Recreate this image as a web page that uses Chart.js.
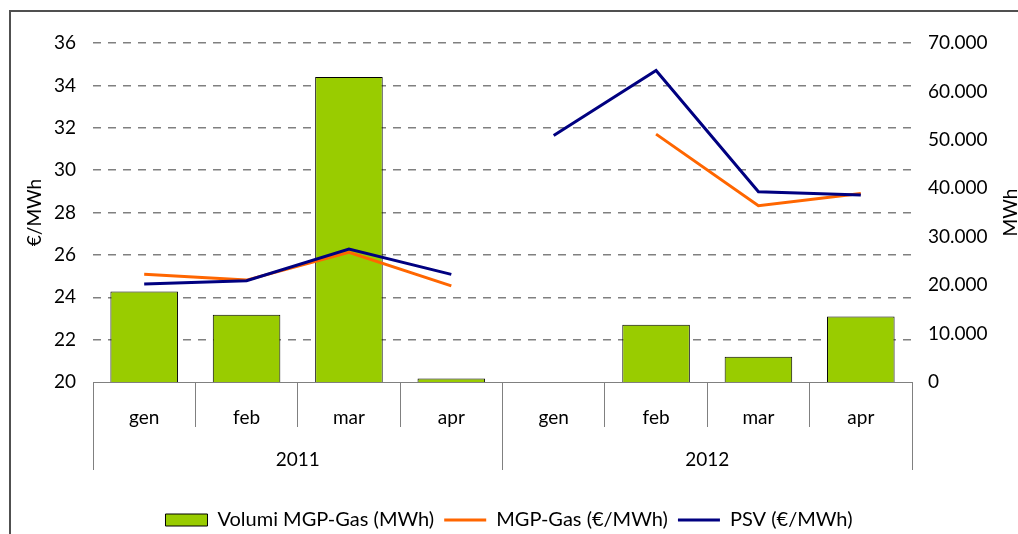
<!DOCTYPE html>
<html>
<head>
<meta charset="utf-8">
<script src="https://cdn.jsdelivr.net/npm/chart.js@4"></script>
<style>
  html, body { margin: 0; padding: 0; background: #fff; overflow: hidden; }
  #wrap { position: relative; width: 1018px; height: 534px; }
  #frame { position: absolute; left: 9px; top: 10px; width: 1100px; height: 600px;
           border: 2px solid #505050; box-sizing: border-box; }
  #c { position: absolute; left: 0; top: 0; }
</style>
</head>
<body>
<div id="wrap">
  <div id="frame"></div>
  <canvas id="c" width="1018" height="534"></canvas>
</div>
<script>
// Months (two years), MWh volumes on right axis, prices on left axis
const months = ['gen', 'feb', 'mar', 'apr', 'gen', 'feb', 'mar', 'apr'];
const years = ['2011', '2012'];
const volumi = [18700, 13900, 63000, 700, null, 11800, 5200, 13500];
const mgpGas = [25.08, 24.81, 26.12, 24.54, null, 31.70, 28.32, 28.90];
const psv = [24.62, 24.78, 26.27, 25.08, 31.63, 34.70, 28.98, 28.83];

const GRID = '#808080';
Chart.defaults.font.family = 'Lato';
Chart.defaults.font.size = 19;
Chart.defaults.color = '#000';

// no line across the year gap
const yearBreak = ctx => ctx.p0DataIndex === 3 ? 'transparent' : undefined;

// right axis title reads bottom-to-top like the left one
const rightTitle = {
  id: 'rightTitle',
  afterDraw(chart) {
    const { ctx, chartArea } = chart;
    const s = chart.scales.y2;
    ctx.save();
    ctx.translate(s.right - 7, (chartArea.top + chartArea.bottom) / 2);
    ctx.rotate(-Math.PI / 2);
    ctx.font = '19px Lato';
    ctx.fillStyle = '#000';
    ctx.textAlign = 'center';
    ctx.textBaseline = 'middle';
    ctx.fillText('MWh', 0, 0);
    ctx.restore();
  }
};

new Chart(document.getElementById('c'), {
  data: {
    labels: months,
    datasets: [
      {
        type: 'bar',
        label: 'Volumi MGP-Gas (MWh)',
        data: volumi,
        yAxisID: 'y2',
        backgroundColor: '#99CC00',
        borderColor: '#000',
        borderWidth: 1,
        barPercentage: 0.66,
        categoryPercentage: 1,
        pointStyle: 'rect',
        order: 2
      },
      {
        type: 'line',
        label: 'MGP-Gas (€/MWh)',
        data: mgpGas,
        yAxisID: 'y',
        borderColor: '#FF6600',
        backgroundColor: '#FF6600',
        borderWidth: 3,
        pointRadius: 0,
        pointStyle: 'line',
        tension: 0,
        segment: { borderColor: yearBreak },
        order: 1
      },
      {
        type: 'line',
        label: 'PSV (€/MWh)',
        data: psv,
        yAxisID: 'y',
        borderColor: '#000080',
        backgroundColor: '#000080',
        borderWidth: 3,
        pointRadius: 0,
        pointStyle: 'line',
        tension: 0,
        segment: { borderColor: yearBreak },
        order: 0
      }
    ]
  },
  options: {
    responsive: false,
    animation: false,
    devicePixelRatio: 1,
    layout: { padding: { top: 43, bottom: -6, left: 0, right: 0 } },
    plugins: {
      tooltip: { enabled: false },
      legend: {
        position: 'bottom',
        labels: {
          usePointStyle: true,
          pointStyleWidth: 42,
          boxHeight: 12,
          padding: 10,
          font: { size: 20 },
          color: '#000',
          sort: (a, b) => a.datasetIndex - b.datasetIndex
        }
      }
    },
    scales: {
      x: {
        type: 'category',
        position: 'bottom',
        offset: true,
        grid: { offset: true, drawOnChartArea: false, tickLength: 45, color: GRID, lineWidth: 1 },
        border: { display: true, color: GRID, width: 1 },
        ticks: { padding: -21, autoSkip: false, maxRotation: 0 },
        afterFit: s => { s.height = 45; }
      },
      x2: {
        type: 'category',
        position: 'bottom',
        weight: 1,
        labels: years,
        offset: true,
        grid: { offset: true, drawOnChartArea: false, tickLength: 43, color: GRID, lineWidth: 1 },
        border: { display: false },
        ticks: { padding: -22, autoSkip: false, maxRotation: 0 },
        afterFit: s => { s.height = 73; }
      },
      y: {
        position: 'left',
        min: 20,
        max: 36,
        ticks: { stepSize: 2, padding: 17 },
        grid: {
          drawTicks: false,
          lineWidth: 1.5,
          color: c => (c.tick && c.tick.value === 20) ? 'transparent' : GRID
        },
        border: { display: false, dash: [8, 7] },
        title: { display: true, text: '€/MWh', padding: { top: 23, bottom: 0 } },
        afterFit: s => { s.width = 93; }
      },
      y2: {
        position: 'right',
        min: 0,
        max: 70000,
        ticks: {
          stepSize: 10000,
          padding: 16,
          callback: v => String(v).replace(/\B(?=(\d{3})+(?!\d))/g, '.')
        },
        grid: { display: false, drawTicks: false },
        border: { display: false },
        afterFit: s => { s.width = 106; }
      }
    }
  },
  plugins: [rightTitle]
});
</script>
</body>
</html>
